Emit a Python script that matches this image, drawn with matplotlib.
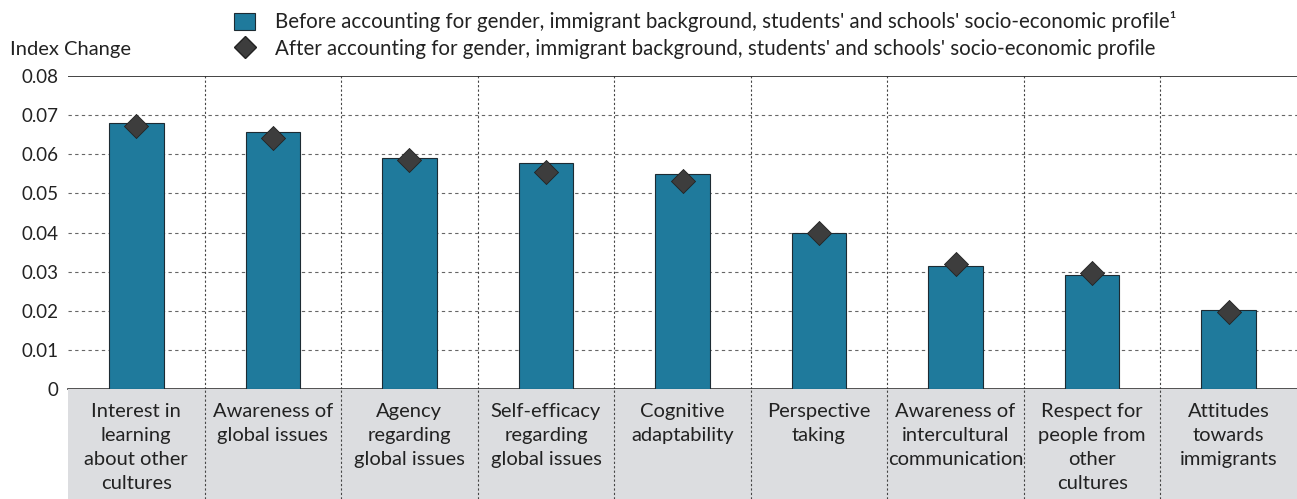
import numpy as np
import matplotlib.pyplot as plt
from matplotlib.patches import Patch
from matplotlib.lines import Line2D

plt.rcParams['font.family'] = ['Lato', 'DejaVu Sans']

categories = ["Interest in\nlearning\nabout other\ncultures", "Awareness of\nglobal issues",
              "Agency\nregarding\nglobal issues", "Self-efficacy\nregarding\nglobal issues",
              "Cognitive\nadaptability", "Perspective\ntaking", "Awareness of\nintercultural\ncommunication",
              "Respect for\npeople from\nother\ncultures", "Attitudes\ntowards\nimmigrants"]
before = [0.0680, 0.0657, 0.0591, 0.0578, 0.0550, 0.0399, 0.0315, 0.0292, 0.0202]
after = [0.0673, 0.0642, 0.0586, 0.0555, 0.0532, 0.0399, 0.0320, 0.0297, 0.0197]
yticks = [0, 0.01, 0.02, 0.03, 0.04, 0.05, 0.06, 0.07, 0.08]
ytick_labels = ["0", "0.01", "0.02", "0.03", "0.04", "0.05", "0.06", "0.07", "0.08"]

W, H = 1297, 499
fig = plt.figure(figsize=(W / 100, H / 100), dpi=100)
left = 68 / W
ax = fig.add_axes([left, 1 - 389 / H, 1 - left, (389 - 76) / H])
x = np.arange(len(categories))

ax.bar(x, before, width=0.4, color="#1f7a9c", edgecolor="#1d2b33", linewidth=0.8, zorder=3)
ax.scatter(x, after, marker="D", s=150, color="#3d3d3d", edgecolor="#222222", linewidth=0.6, zorder=4)

ax.set_xlim(-0.5, len(categories) - 0.5)
ax.set_ylim(0, 0.08)
ax.set_yticks(yticks)
ax.set_yticklabels(ytick_labels, fontsize=13.5, color="#222222")
ax.set_xticks([])
ax.tick_params(axis="y", length=0, pad=7)
for v in yticks[1:-1]:
    ax.axhline(v, color="#666666", lw=0.8, ls=(0, (3, 3)), zorder=1)
ax.axhline(0.08, color="#222222", lw=1.2, zorder=2)
for i in range(len(categories) - 1):
    ax.axvline(i + 0.5, color="#444444", lw=0.8, ls=(0, (2, 2)), zorder=1)
for s in ["top", "right", "left"]:
    ax.spines[s].set_visible(False)
ax.spines["bottom"].set_color("#333333")
ax.spines["bottom"].set_linewidth(1.2)

# grey label band
lab = fig.add_axes([left, 0, 1 - left, 1 - 389 / H], facecolor="#dcdde0")
lab.set_xlim(-0.5, len(categories) - 0.5)
lab.set_ylim(0, 1)
lab.set_xticks([])
lab.set_yticks([])
for s in lab.spines.values():
    s.set_visible(False)
for i in range(len(categories) - 1):
    lab.axvline(i + 0.5, color="#444444", lw=0.8, ls=(0, (2, 2)))
for i, c in enumerate(categories):
    lab.text(i, 0.87, c, ha="center", va="top", fontsize=14.5, color="#222222", linespacing=1.5)

fig.text(10 / W, 1 - 50 / H, "Index Change", fontsize=14.5, color="#222222", va="center", ha="left")

handles = [Patch(facecolor="#1f7a9c", edgecolor="#1d2b33", linewidth=0.8),
           Line2D([], [], marker="D", ls="none", markersize=11, color="#3d3d3d", markeredgecolor="#222222")]
labels = ["Before accounting for gender, immigrant background, students' and schools' socio-economic profile\u00b9",
          "After accounting for gender, immigrant background, students' and schools' socio-economic profile"]
fig.legend(handles, labels, loc="upper left", bbox_to_anchor=(218 / W, 1.01), frameon=False,
           fontsize=14.8, labelcolor="#222222", handlelength=1.0, handleheight=0.85, labelspacing=0.32,
           handletextpad=0.95, borderpad=0.3)

fig.savefig("out.png", dpi=100)
